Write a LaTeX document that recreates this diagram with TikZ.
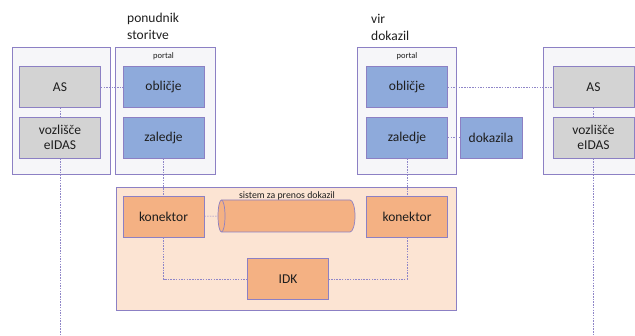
\documentclass[tikz,border=0pt]{standalone}
\usepackage{fontspec}
\setmainfont{Carlito}
\definecolor{greyf}{HTML}{D3D3D3}
\definecolor{bluef}{HTML}{8EAADB}
\definecolor{orangef}{HTML}{F4B183}
\definecolor{bigf}{HTML}{FCE4D3}
\definecolor{outerf}{HTML}{F6F6F9}
\definecolor{bordc}{HTML}{8C80C4}
\definecolor{linkc}{HTML}{8F86C8}
\definecolor{txt}{HTML}{1E1E1E}
\begin{document}
\begin{tikzpicture}[x=1pt,y=-1pt,
  outer/.style={draw=bordc, fill=outerf, line width=0.8pt},
  box/.style={draw=bordc, line width=0.7pt, minimum width=81pt, minimum height=41pt, inner sep=0pt,
    font=\fontsize{13.5}{15}\selectfont, align=center, text=txt},
  greybox/.style={box, fill=greyf},
  bluebox/.style={box, fill=bluef},
  orangebox/.style={box, fill=orangef},
  link/.style={draw=linkc, line width=0.5pt, dash pattern=on 1.5pt off 1.2pt},
  title/.style={font=\fontsize{13.5}{17.5}\selectfont, align=left, text=txt, inner sep=0pt},
  small/.style={font=\fontsize{8.5}{10}\selectfont, text=txt, inner sep=0pt}
]
\useasboundingbox (0,0) rectangle (635,336);
\clip (0,0) rectangle (635,336);

% containers
\draw[outer] (12,47) rectangle (110,174);
\draw[outer] (115,47) rectangle (215,174);
\draw[outer] (357,47) rectangle (456,174);
\draw[outer] (543,47) rectangle (660,174);
\draw[outer, fill=bigf] (116,187) rectangle (456,310);

% titles
\node[title, anchor=west] (pon) at (127,26.5) {ponudnik\\storitve};
\node[title, anchor=west] (vir) at (371,27.5) {vir\\dokazil};
\node[small] (portL) at (163.5,56) {portal};
\node[small] (portR) at (407,56) {portal};

% boxes
\node[greybox] (ASL) at (60,87) {AS};
\node[greybox] (vozL) at (60,137.5) {vozlišče\\eIDAS};
\node[bluebox] (oblL) at (163.5,87) {obličje};
\node[bluebox] (zalL) at (163.5,137.5) {zaledje};
\node[bluebox] (oblR) at (407,87) {obličje};
\node[bluebox] (zalR) at (407,137.5) {zaledje};
\node[bluebox, minimum width=62pt] (dok) at (491,137.5) {dokazila};
\node[greybox] (ASR) at (593.5,87) {AS};
\node[greybox] (vozR) at (593.5,137.5) {vozlišče\\eIDAS};
\node[orangebox] (konL) at (163.5,216.5) {konektor};
\node[orangebox] (konR) at (407,216.5) {konektor};
\node[orangebox] (IDK) at (288,279) {IDK};

% cylinder
\fill[orangef] (221.5,200) -- (350,200) arc[start angle=-90, end angle=90, x radius=5, y radius=16]
  -- (221.5,232) arc[start angle=90, end angle=270, x radius=3.5, y radius=16] -- cycle;
\draw[bordc, line width=0.7pt] (221.5,200) -- (350,200) arc[start angle=-90, end angle=90, x radius=5, y radius=16]
  -- (221.5,232);
\draw[bordc, line width=0.7pt, fill=orangef] (221.5,216) ellipse[x radius=3.5, y radius=16];
\coordinate (cylL) at (218,216);
\node[small, font=\fontsize{9.8}{11}\selectfont] (sys) at (287,195.5) {sistem za prenos dokazil};

% connectors
\coordinate (vozLend) at (60,340);
\coordinate (vozRend) at (593.5,340);
\draw[link] (ASL) -- (oblL);
\draw[link] (ASL) -- (vozL);
\draw[link] (vozL) -- (vozLend);
\draw[link] (zalL) -- (konL);
\draw[link] (oblR) -- (ASR);
\draw[link] (zalR) -- (dok);
\draw[link] (ASR) -- (vozR);
\draw[link] (vozR) -- (vozRend);
\draw[link] (zalR) -- (konR);
\draw[link] (konL) -- (cylL);
\draw[link] (konL.south) |- (IDK.west);
\draw[link] (konR.south) |- (IDK.east);
\end{tikzpicture}
\end{document}
